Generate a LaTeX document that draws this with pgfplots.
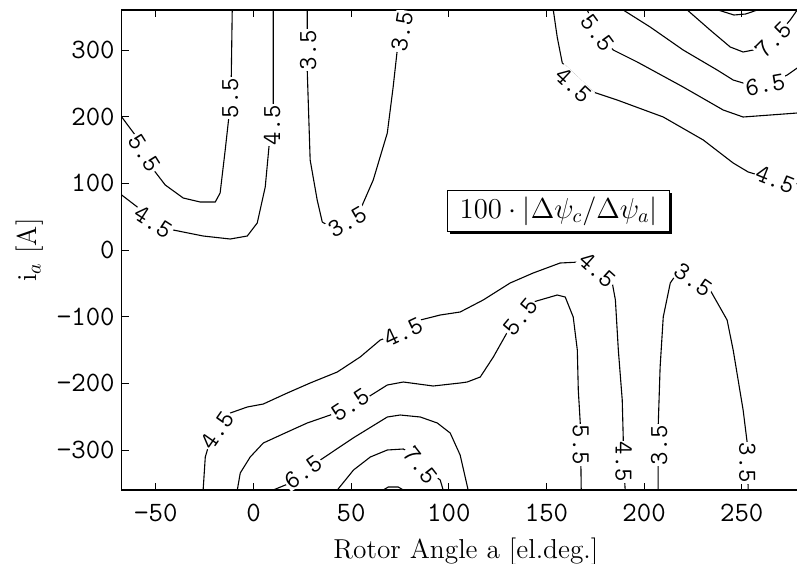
\documentclass[border=0pt]{standalone}
\usepackage{pgfplots}
\pgfplotsset{compat=1.18}
\usetikzlibrary{shadows}
\tikzset{cl/.style={black, line width=0.55pt, no markers},
 lab/.style={font=\ttfamily\fontsize{13}{13}\selectfont, fill=white, inner sep=0.5pt}}
\begin{document}
\begin{tikzpicture}
\begin{axis}[name=ax, scale only axis, width=344.2pt, height=240pt,
 xmin=-67.5, xmax=285, ymin=-360, ymax=360,
 xtick={-50,0,50,100,150,200,250}, xticklabels={−50,0,50,100,150,200,250},
 ytick={-300,-200,-100,0,100,200,300}, yticklabels={−300,−200,−100,0,100,200,300},
 ticklabel style={font=\ttfamily\fontsize{14}{16}\selectfont},
 xticklabel style={yshift=-3.5pt},
 tick style={black, line width=0.5pt}, major tick length=3.5pt,
 axis line style={line width=0.8pt},
 xlabel={Rotor Angle a [el.deg.]}, ylabel={i$_a$ [A]},
 label style={font=\fontsize{13.7}{16}\selectfont},
 xlabel style={yshift=-1pt},
]
% 5.5 left
\addplot[cl] coordinates {(-67.5,199.5)(-60.6,172.5)(-51.9,123)(-45.2,97.5)(-36.0,78)(-27.3,72)(-19.6,72)(-17.1,85.5)(-14.5,150)(-12.4,205.5)(-11.4,258)(-10.9,360)};
% 4.5 left
\addplot[cl] coordinates {(-67.5,82.5)(-59.5,64.5)(-41.1,30)(-25.8,21)(-11.9,16.5)(-3.2,21)(1.9,40.5)(6.0,94.5)(8.0,157.5)(10.1,217.5)(10.1,360)};
% 3.5 left U
\addplot[cl] coordinates {(27.5,360)(27.5,270)(29.0,135)(32.6,75)(35.2,42)(37.7,37.5)(48.0,42)(54.6,60)(61.3,105)(68.5,175.5)(71.5,244.5)(73.6,300)(75.5,318)};
% 4.5 top right
\addplot[cl] coordinates {(153.5,360)(155.5,319.5)(158.1,280.5)(173.9,237)(186.2,225)(209.8,199.5)(230.3,165)(245.6,130.5)(253.3,117)(267.1,105)(282.4,97.5)};
% 5.5 top right
\addplot[cl] coordinates {(170.9,360)(176.0,325.5)(184.2,300)(196.5,282)(220.0,244.5)(240.5,210)(250.7,199.5)(264.6,202.5)(278.4,205.5)(285,207)};
% 6.5 top right
\addplot[cl] coordinates {(189.3,360)(203.1,334.5)(220.0,300)(237.4,270)(245.6,255)(250.7,250.5)(262.0,247.5)(273.3,262.5)(278.4,273)(285,285)};
% 7.5 top right
\addplot[cl] coordinates {(222.1,360)(233.8,330)(244.1,304.5)(250.7,297)(255.9,300)(266.1,315)(274.8,345)(278.4,360)};
% 8.5 fragment top
\addplot[cl] coordinates {(237.9,360)(246,352.5)(252,354)(258,360)};
% 4.5 bottom
\addplot[cl] coordinates {(-25.8,-360)(-24.7,-310.5)(-23.2,-295.5)(-18.6,-270)(-11.9,-244.5)(-3.2,-235.5)(5.0,-231)(17.3,-214.5)(29.0,-199.5)(42.9,-183)(54.6,-160.5)(64.9,-135)(76.7,-123)(85.4,-105)(95.6,-97.5)(105.8,-93)(117.6,-75)(131.4,-49.5)(143.2,-34.5)(157.0,-19.5)(167.3,-18)(176.0,-30)(183.7,-49.5)(185.3,-75)(186.8,-150)(188.8,-225)(189.3,-280.5)(189.5,-318)(190.3,-360)};
% 5.5 bottom
\addplot[cl] coordinates {(-8.3,-360)(-6.8,-334.5)(-1.7,-310.5)(5.0,-289.5)(17.3,-273)(27.5,-259.5)(39.3,-247.5)(49.5,-232.5)(58.7,-220.5)(68.5,-202.5)(76.7,-198)(92.0,-204)(105.8,-199.5)(109.4,-198)(116.1,-190.5)(122.8,-160.5)(130.0,-123)(136.6,-100.5)(143.2,-78)(155.5,-67.5)(159.6,-70.5)(163.7,-100.5)(165.8,-150)(166.3,-210)(167.3,-259.5)(167.5,-292.5)(167.8,-360)};
% 6.5 bottom dome
\addplot[cl] coordinates {(10.1,-360)(18.8,-349.5)(25.4,-333)(34.2,-315)(51.0,-282)(68.5,-250.5)(75.1,-247.5)(85.4,-250.5)(94.1,-259.5)(100.7,-274.5)(105.8,-307.5)(109.9,-360)};
% 7.5 bottom dome
\addplot[cl] coordinates {(42.9,-360)(51.2,-330)(59.8,-310.5)(68.5,-300)(76.7,-298.5)(80.2,-304.5)(85.4,-322.5)(95.6,-345)(97.1,-360)};
% 8.5 bottom tip
\addplot[cl] coordinates {(66.4,-360)(69.0,-355.5)(74.1,-355.5)(76.7,-360)};
% 3.5 bottom right U
\addplot[cl] coordinates {(207.2,-360)(207.2,-315)(207.7,-292.5)(207.2,-265.5)(208.2,-175.5)(209.8,-100.5)(213.4,-49.5)(216.9,-34.5)(225.1,-45)(233.8,-60)(242.5,-105)(245.6,-150)(250.7,-240)(252.8,-289.5)(252.9,-319.5)(253.3,-360)};
% labels
\node[lab, rotate=-58] at (axis cs:-56,145.5) {5.5};
\node[lab, rotate=90] at (axis cs:-11.9,228) {5.5};
\node[lab, rotate=-33] at (axis cs:-51.4,42) {4.5};
\node[lab, rotate=90] at (axis cs:9.6,187.5) {4.5};
\node[lab, rotate=90] at (axis cs:28.0,300) {3.5};
\node[lab, rotate=30] at (axis cs:48.0,42) {3.5};
\node[lab, rotate=80] at (axis cs:76.1,328) {3.5};
\node[lab, rotate=-43] at (axis cs:163.7,247.5) {4.5};
\node[lab, rotate=-22] at (axis cs:267.1,105) {4.5};
\node[lab, rotate=-54] at (axis cs:176.0,325.5) {5.5};
\node[lab, rotate=10] at (axis cs:262.0,247.5) {6.5};
\node[lab, rotate=45] at (axis cs:266.1,315) {7.5};
\node[lab, rotate=55] at (axis cs:-18.6,-270) {4.5};
\node[lab, rotate=25] at (axis cs:76.7,-123) {4.5};
\node[lab, rotate=-42] at (axis cs:176.0,-30) {4.5};
\node[lab, rotate=-90] at (axis cs:189.5,-318) {4.5};
\node[lab, rotate=33] at (axis cs:49.5,-232.5) {5.5};
\node[lab, rotate=50] at (axis cs:136.6,-100.5) {5.5};
\node[lab, rotate=-90] at (axis cs:167.5,-292.5) {5.5};
\node[lab, rotate=35] at (axis cs:25.4,-333) {6.5};
\node[lab, rotate=-52] at (axis cs:85.4,-322.5) {7.5};
\node[lab, rotate=90] at (axis cs:207.7,-292.5) {3.5};
\node[lab, rotate=-35] at (axis cs:225.1,-45) {3.5};
\node[lab, rotate=-90] at (axis cs:252.9,-319.5) {3.5};
\node[draw=black, fill=white, line width=0.5pt, minimum width=111pt, minimum height=20.5pt, inner sep=0pt,
  drop shadow={shadow xshift=1pt, shadow yshift=-1pt, fill=black, opacity=1},
  font=\fontsize{14}{16}\selectfont] at (axis cs:156.3,58.5) {$100\cdot|\Delta\psi_c/\Delta\psi_a|$};
\end{axis}
\pgfresetboundingbox
\path[use as bounding box] ([shift={(-60.85pt,-36.5pt)}]ax.south west) rectangle ([shift={(337.65pt,245pt)}]ax.south west);
\end{tikzpicture}
\end{document}
